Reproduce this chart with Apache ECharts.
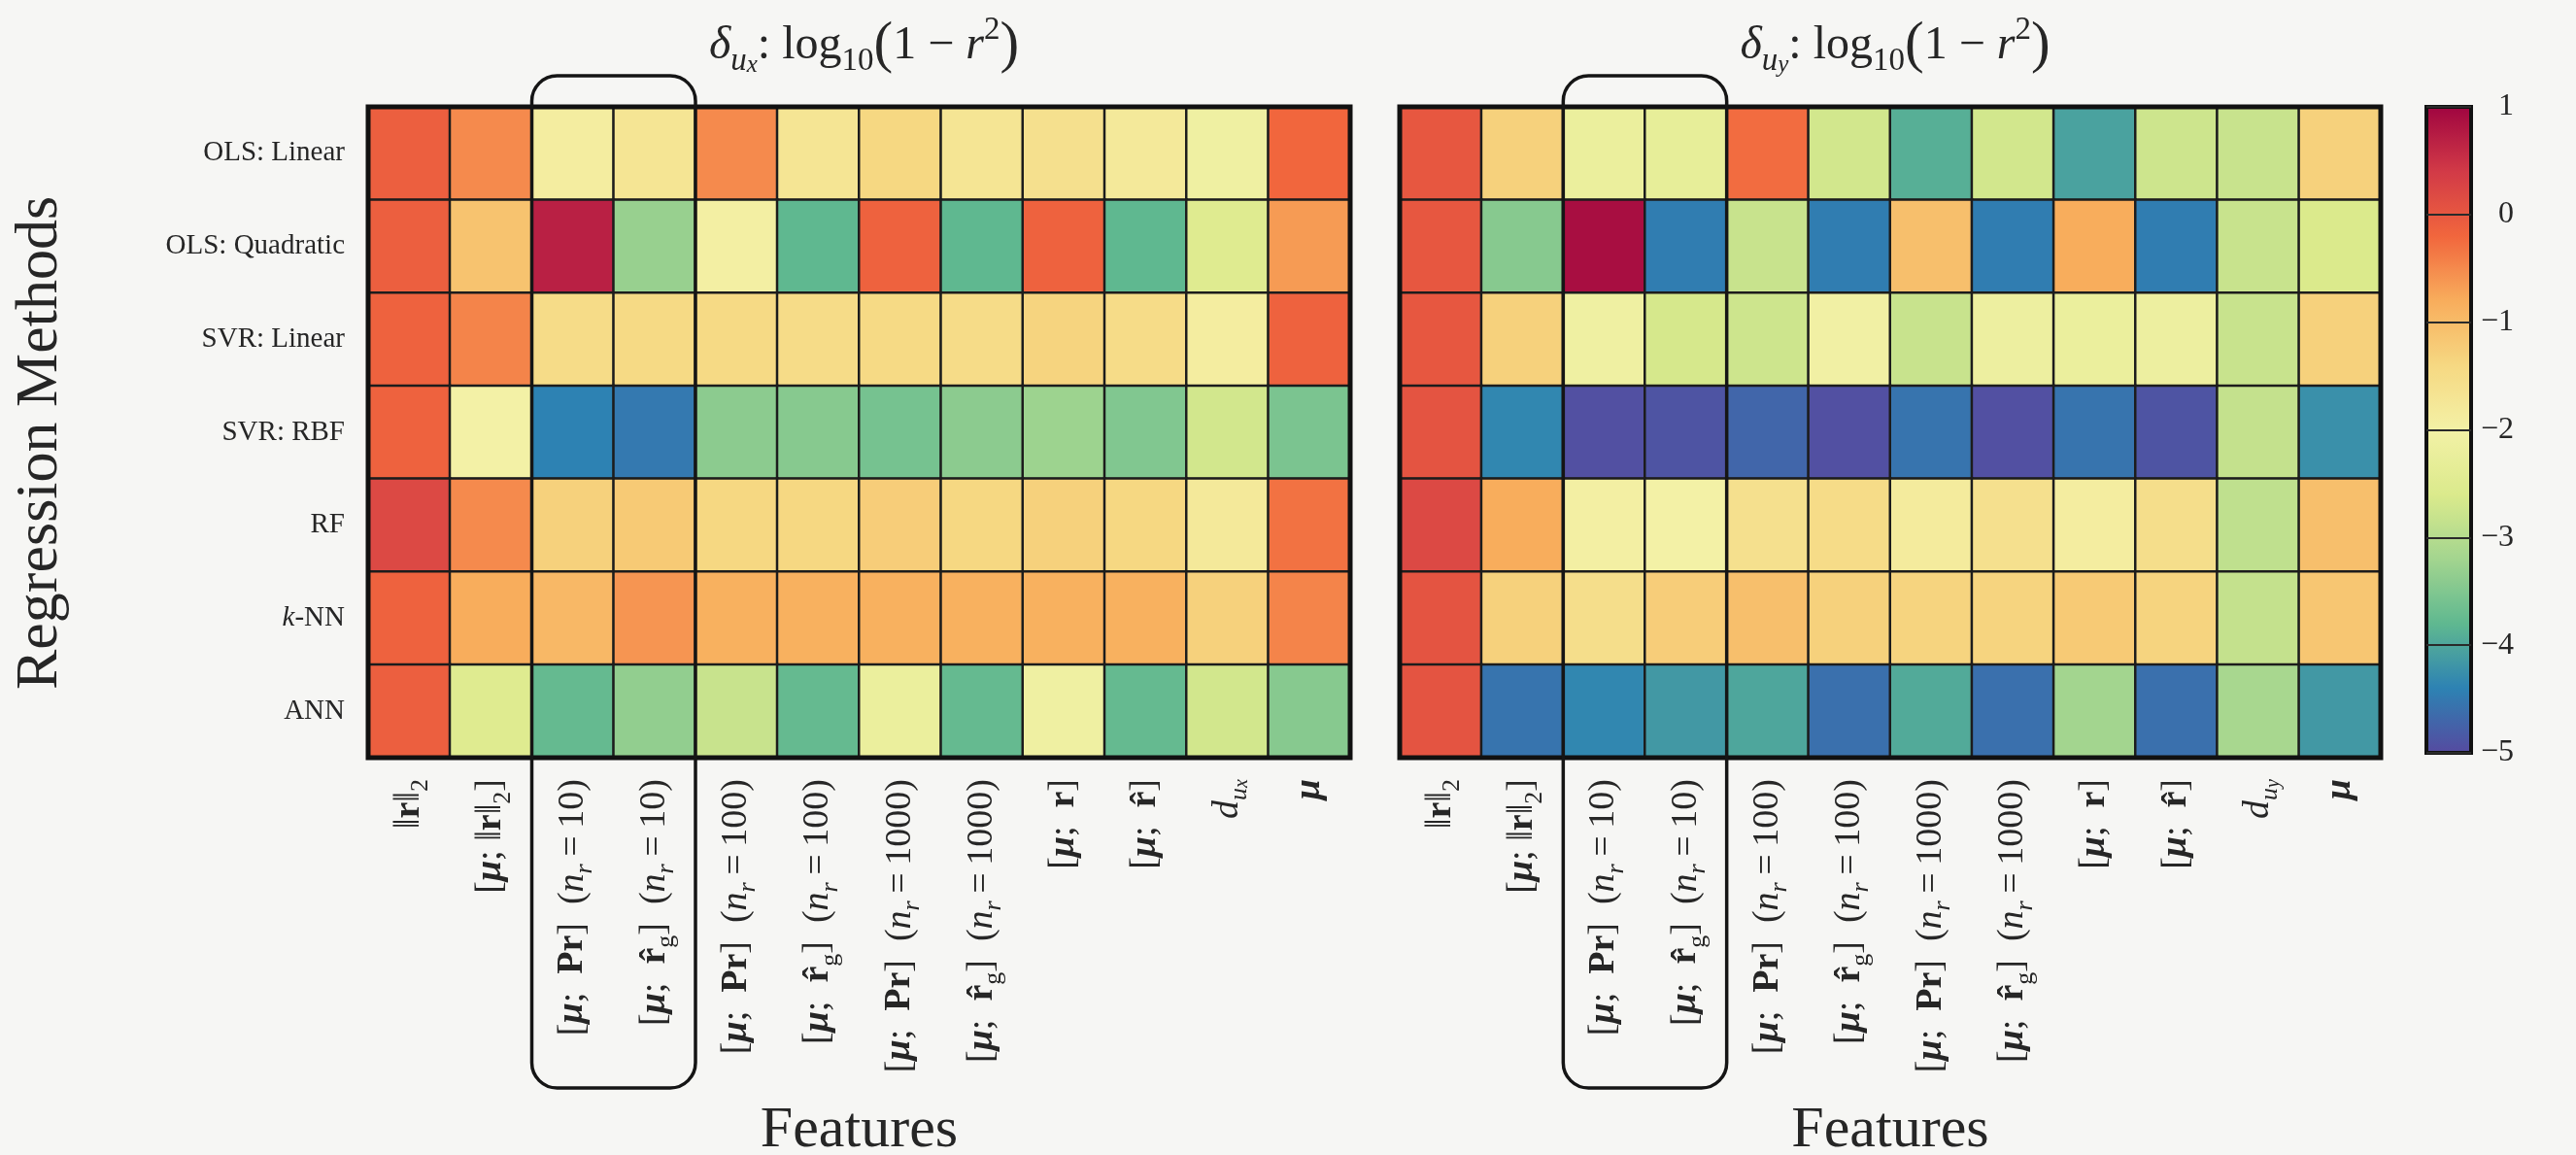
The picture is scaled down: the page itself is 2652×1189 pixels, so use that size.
<!DOCTYPE html>
<html><head><meta charset="utf-8">
<script src="https://cdn.jsdelivr.net/npm/echarts@6/dist/echarts.min.js"></script>
<style>html,body{margin:0;padding:0;background:#f6f6f4;} #c{width:2652px;height:1189px;}</style>
</head><body><div id="c"></div>
<script>
// ---------------- data ----------------
const methods = ['OLS: Linear', 'OLS: Quadratic', 'SVR: Linear', 'SVR: RBF', 'RF', '{i|k}{n|-NN}', 'ANN'];
const featuresUx = [
  '{n|‖}{b|r}{n|‖}{sn|2}',
  '{n|[}{bi|μ}{n|; ‖}{b|r}{n|‖}{sn|2}{n|]}',
  '{n|[}{bi|μ}{n|;  }{b|Pr}{n|]  (}{i|n}{s|r}{n|\u2009=\u200910)}',
  '{n|[}{bi|μ}{n|;  }{b|r\u0302}{sn|g}{n|]  (}{i|n}{s|r}{n|\u2009=\u200910)}',
  '{n|[}{bi|μ}{n|;  }{b|Pr}{n|]  (}{i|n}{s|r}{n|\u2009=\u2009100)}',
  '{n|[}{bi|μ}{n|;  }{b|r\u0302}{sn|g}{n|]  (}{i|n}{s|r}{n|\u2009=\u2009100)}',
  '{n|[}{bi|μ}{n|;  }{b|Pr}{n|]  (}{i|n}{s|r}{n|\u2009=\u20091000)}',
  '{n|[}{bi|μ}{n|;  }{b|r\u0302}{sn|g}{n|]  (}{i|n}{s|r}{n|\u2009=\u20091000)}',
  '{n|[}{bi|μ}{n|;  }{b|r}{n|]}',
  '{n|[}{bi|μ}{n|;  }{b|r\u0302}{n|]}',
  '{i|d}{s|u}{ss|x}',
  '{bi|μ}'
];
const featuresUy = featuresUx.slice(0, 10).concat(['{i|d}{s|u}{ss|y}', '{bi|μ}']);
// delta u_x : log10(1 - r^2), rows = methods, cols = features
const uxValues = [
  [-0.10, -0.50, -1.90, -1.70, -0.50, -1.70, -1.40, -1.70, -1.60, -1.80, -2.10, -0.20],
  [-0.10, -1.10,  0.70, -3.30, -1.95, -3.80, -0.15, -3.80, -0.15, -3.80, -2.50, -0.65],
  [-0.15, -0.45, -1.50, -1.45, -1.45, -1.50, -1.45, -1.50, -1.35, -1.50, -1.90, -0.15],
  [-0.15, -2.00, -4.40, -4.50, -3.40, -3.45, -3.60, -3.40, -3.25, -3.50, -2.70, -3.55],
  [ 0.20, -0.50, -1.30, -1.20, -1.40, -1.40, -1.25, -1.40, -1.30, -1.40, -1.80, -0.30],
  [-0.15, -0.80, -0.95, -0.60, -0.85, -0.85, -0.85, -0.85, -0.85, -0.85, -1.30, -0.45],
  [-0.10, -2.50, -3.75, -3.35, -2.80, -3.75, -2.20, -3.75, -2.10, -3.75, -2.70, -3.45]
];
// delta u_y : log10(1 - r^2)
const uyValues = [
  [ 0.00, -1.30, -2.20, -2.30, -0.25, -2.70, -3.90, -2.70, -4.05, -2.75, -2.80, -1.30],
  [ 0.00, -3.45,  0.90, -4.45, -2.80, -4.45, -1.05, -4.45, -0.80, -4.45, -2.80, -2.60],
  [ 0.00, -1.30, -2.10, -2.65, -2.75, -2.05, -2.80, -2.15, -2.20, -2.15, -2.80, -1.30],
  [ 0.05, -4.35, -4.95, -4.90, -4.70, -4.95, -4.55, -4.95, -4.55, -4.90, -2.85, -4.25],
  [ 0.20, -0.80, -1.95, -2.00, -1.60, -1.50, -1.85, -1.60, -1.90, -1.55, -2.90, -1.05],
  [ 0.05, -1.30, -1.55, -1.25, -1.05, -1.30, -1.35, -1.35, -1.20, -1.35, -2.85, -1.15],
  [ 0.05, -4.55, -4.35, -4.15, -4.00, -4.60, -3.95, -4.60, -3.20, -4.60, -3.15, -4.15]
];
const colorMin = -5, colorMax = 1, colorStep = 1;
const boxedCols = [2, 3];
const titleUx = '{i|δ}{s|u}{ss|x}{n|: log}{sn|10}{p|(}{n|1 − }{i|r}{sup|2}{p|)}';
const titleUy = '{i|δ}{s|u}{ss|y}{n|: log}{sn|10}{p|(}{n|1 − }{i|r}{sup|2}{p|)}';
// Spectral_r (as it appears in the reference picture)
const spectralR = ['#554ba0','#2d82b3','#5fb890','#a3d58f','#dbea8c','#f3f1a6','#f6d882','#f8ad5c','#f1663d','#d23a47','#a00540'];

// ---------------- styles ----------------
const F = 'Liberation Serif';
const TC = '#262626';
function rich(fs) {
  const lh = Math.round(fs * 1.35);
  const base = {fontFamily: F, color: TC, fontWeight: 'normal'};
  return {
    n: Object.assign({}, base, {fontSize: fs, lineHeight: lh}),
    p: Object.assign({}, base, {fontSize: Math.round(fs * 1.22), lineHeight: lh}),
    b: Object.assign({}, base, {fontSize: fs, fontWeight: 'bold', lineHeight: lh}),
    bi: Object.assign({}, base, {fontSize: fs, fontWeight: 'bold', fontStyle: 'italic', lineHeight: lh}),
    i: Object.assign({}, base, {fontSize: fs, fontStyle: 'italic', lineHeight: lh}),
    s: Object.assign({}, base, {fontSize: Math.round(fs * 0.68), fontStyle: 'italic', verticalAlign: 'bottom', lineHeight: Math.round(fs * 0.75)}),
    sn: Object.assign({}, base, {fontSize: Math.round(fs * 0.68), verticalAlign: 'bottom', lineHeight: Math.round(fs * 0.75)}),
    ss: Object.assign({}, base, {fontSize: Math.round(fs * 0.52), fontStyle: 'italic', verticalAlign: 'bottom', lineHeight: Math.round(fs * 0.55)}),
    sup: Object.assign({}, base, {fontSize: Math.round(fs * 0.68), verticalAlign: 'top', lineHeight: Math.round(fs * 0.75)})
  };
}
const tickRich = rich(38);
const yRich = rich(29);
const titleRich = rich(48);

function toData(m) {
  const out = [];
  m.forEach((row, r) => row.forEach((v, c) => out.push([c, r, v])));
  return out;
}

const grids = [
  {left: 379, top: 110, width: 1011, height: 670},
  {left: 1441, top: 110, width: 1010, height: 670}
];
const cbar = {left: 2498, top: 110, width: 46, height: 665};

const chart = echarts.init(document.getElementById('c'), null, {renderer: 'canvas'});

const gridBase = {show: true, borderColor: '#111', borderWidth: 5, backgroundColor: 'transparent', z: 5, containLabel: false, outerBoundsMode: 'none'};
const option = {
  backgroundColor: '#f6f6f4',
  animation: false,
  title: [
    {text: titleUx, left: grids[0].left + grids[0].width / 2, top: 10, textAlign: 'center', textStyle: {fontWeight: 'normal', rich: titleRich}},
    {text: titleUy, left: grids[1].left + grids[1].width / 2, top: 10, textAlign: 'center', textStyle: {fontWeight: 'normal', rich: titleRich}}
  ],
  grid: [
    Object.assign({}, gridBase, grids[0]),
    Object.assign({}, gridBase, grids[1]),
    Object.assign({}, gridBase, {borderWidth: 4, z: 10}, cbar)
  ],
  xAxis: [
    {type: 'category', gridIndex: 0, data: featuresUx, axisLine: {show: false}, axisTick: {show: false}, splitLine: {show: false},
     axisLabel: {rotate: 90, margin: 22, rich: tickRich, formatter: v => v},
     name: 'Features', nameLocation: 'middle', nameGap: 354, nameTextStyle: {fontFamily: F, fontSize: 60, color: TC, verticalAlign: 'top'}},
    {type: 'category', gridIndex: 1, data: featuresUy, axisLine: {show: false}, axisTick: {show: false}, splitLine: {show: false},
     axisLabel: {rotate: 90, margin: 22, rich: tickRich, formatter: v => v},
     name: 'Features', nameLocation: 'middle', nameGap: 354, nameTextStyle: {fontFamily: F, fontSize: 60, color: TC, verticalAlign: 'top'}},
    {type: 'value', gridIndex: 2, show: false, min: 0, max: 1}
  ],
  yAxis: [
    {type: 'category', gridIndex: 0, data: methods, inverse: true, axisLine: {show: false}, axisTick: {show: false}, splitLine: {show: false},
     axisLabel: {margin: 24, rich: yRich, fontFamily: F, fontSize: 29, color: TC, formatter: v => v.indexOf('{') >= 0 ? v : '{n|' + v + '}'},
     name: 'Regression Methods', nameLocation: 'middle', nameRotate: 90, nameGap: 306,
     nameTextStyle: {fontFamily: F, fontSize: 62, color: TC, padding: [0, 22, 0, 0]}},
    {type: 'category', gridIndex: 1, data: methods, inverse: true, axisLine: {show: false}, axisTick: {show: false}, splitLine: {show: false}, axisLabel: {show: false}},
    {type: 'value', gridIndex: 2, min: colorMin, max: colorMax, interval: colorStep, position: 'right', z: 10,
     axisLine: {show: false}, axisTick: {show: false},
     splitLine: {show: true, lineStyle: {color: '#2a2a2a', width: 2}},
     axisLabel: {margin: 44, align: 'right', fontFamily: F, fontSize: 32, color: TC, formatter: v => String(v).replace('-', '−')}}
  ],
  visualMap: [{
    type: 'continuous', min: colorMin, max: colorMax, seriesIndex: [0, 1], calculable: false, realtime: false, hoverLink: false,
    orient: 'vertical', left: cbar.left, top: cbar.top, itemWidth: cbar.width, itemHeight: cbar.height, padding: 0,
    text: null, inRange: {color: spectralR}
  }],
  series: [
    {type: 'heatmap', xAxisIndex: 0, yAxisIndex: 0, data: toData(uxValues),
     itemStyle: {borderColor: '#1c1c1c', borderWidth: 2.5}, emphasis: {disabled: true}},
    {type: 'heatmap', xAxisIndex: 1, yAxisIndex: 1, data: toData(uyValues),
     itemStyle: {borderColor: '#1c1c1c', borderWidth: 2.5}, emphasis: {disabled: true}}
  ]
};
chart.setOption(option);

// rounded annotation boxes around the boxed feature columns
const boxes = [];
[0, 1].forEach(g => {
  const xa = chart.convertToPixel({xAxisIndex: g}, boxedCols[0]);
  const xb = chart.convertToPixel({xAxisIndex: g}, boxedCols[1]);
  const half = (xb - xa) / 2;
  const top = grids[g].top - 32;
  const bottom = grids[g].top + grids[g].height + 340;
  boxes.push({
    type: 'rect', z: 20,
    shape: {x: xa - half, y: top, width: xb - xa + 2 * half, height: bottom - top, r: 26},
    style: {fill: 'none', stroke: '#151515', lineWidth: 3.5}
  });
});
chart.setOption({graphic: boxes});
</script></body></html>
